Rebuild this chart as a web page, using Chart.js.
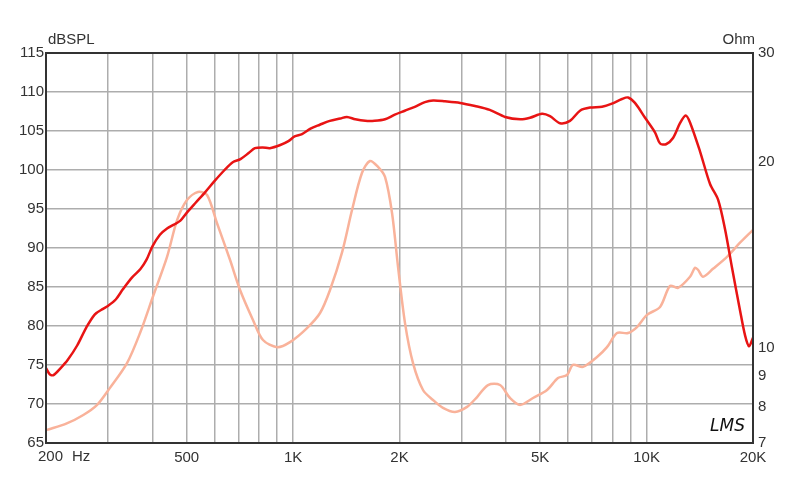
<!DOCTYPE html>
<html>
<head>
<meta charset="utf-8">
<script src="https://cdn.jsdelivr.net/npm/chart.js@4/dist/chart.umd.min.js"></script>
<style>
  html, body { margin: 0; padding: 0; background: #fff; }
  #wrap { width: 800px; height: 484px; }
</style>
</head>
<body>
<div id="wrap"><canvas id="chart" width="800" height="484"></canvas></div>
<script>
// SPL response (Hz / dB)
const splFreq = [200, 205, 210, 220, 230, 245, 260, 275, 290, 300, 315, 330, 350, 370, 385, 400, 420, 440, 460, 480,
  500, 530, 565, 600, 640, 675, 710, 750, 780, 820, 860, 920, 970, 1010, 1060, 1120, 1190, 1270, 1360, 1420,
  1500, 1600, 1700, 1820, 1940, 2070, 2210, 2360, 2490, 2690, 2970, 3270, 3600, 3980, 4390, 4680, 5060, 5330,
  5690, 6070, 6480, 6920, 7480, 7980, 8520, 8860, 9270, 9900, 10570, 10920, 11350, 11880, 12430, 12900, 13270,
  14160, 15120, 15930, 16670, 17440, 18380, 18990, 19490, 20000];
const splDb = [74.6, 73.8, 73.7, 74.6, 75.6, 77.5, 79.8, 81.5, 82.2, 82.6, 83.4, 84.7, 86.2, 87.3, 88.5, 90.2, 91.7, 92.5, 93.0, 93.5,
  94.5, 95.8, 97.2, 98.6, 100.0, 101.0, 101.4, 102.2, 102.8, 102.9, 102.8, 103.2, 103.7, 104.3, 104.6, 105.3, 105.8, 106.3, 106.6, 106.8,
  106.5, 106.3, 106.3, 106.5, 107.1, 107.6, 108.1, 108.7, 108.9, 108.8, 108.6, 108.2, 107.7, 106.8, 106.5, 106.7, 107.2, 106.9,
  106.0, 106.3, 107.6, 108.0, 108.1, 108.5, 109.1, 109.3, 108.6, 106.7, 104.8, 103.4, 103.3, 104.1, 106.0, 107.0, 106.1,
  102.4, 98.2, 96.2, 92.4, 87.5, 82.0, 78.8, 77.4, 78.5];

// Impedance (Hz / Ohm)
const impFreq = [201, 229, 255, 279, 303, 339, 369, 401, 440, 470, 501, 538, 571, 609, 663, 708, 770, 822, 901, 980,
  1095, 1192, 1272, 1375, 1468, 1566, 1650, 1739, 1820, 1905, 1981, 2073, 2184, 2331, 2487, 2655, 2871, 3105, 3315,
  3560, 3849, 4108, 4385, 4772, 5229, 5615, 5954, 6190, 6608, 7241, 7727, 8248, 8861, 9394, 10026, 10916, 11650,
  12272, 13270, 13708, 13978, 14442, 15412, 16886, 18376, 20000];
const impOhm = [7.35, 7.53, 7.77, 8.07, 8.59, 9.43, 10.55, 12.07, 14.02, 16.09, 17.33, 17.86, 17.66, 15.91, 13.87, 12.39, 11.08, 10.28, 10.01, 10.2,
  10.75, 11.37, 12.39, 14.24, 16.7, 19.17, 20.05, 19.61, 18.89, 16.51, 13.51, 10.95, 9.43, 8.53, 8.22, 7.98, 7.86, 8.01, 8.31,
  8.69, 8.69, 8.28, 8.07, 8.28, 8.53, 8.92, 9.02, 9.37, 9.3, 9.65, 10.01, 10.55, 10.55, 10.79, 11.29, 11.63, 12.58,
  12.49, 13.02, 13.46, 13.36, 13.02, 13.41, 14.02, 14.78, 15.51];

// Axis ticks
const freqGrid = [200, 300, 400, 500, 600, 700, 800, 900, 1000, 2000, 3000, 4000, 5000, 6000, 7000, 8000, 9000, 10000, 20000];
const freqLabels = { 500: '500', 1000: '1K', 2000: '2K', 5000: '5K', 10000: '10K', 20000: '20K' };
const ohmTicks = [7, 8, 9, 10, 20, 30];

const FONT = "'Liberation Sans', Arial, sans-serif";
const gridColor = '#adadad';
const textColor = '#333';

function toPoints(xs, ys) {
  return xs.map((x, i) => ({ x, y: ys[i] }));
}

const framePlugin = {
  id: 'frame',
  afterDraw(chart) {
    const { ctx, chartArea: a } = chart;
    ctx.save();
    ctx.strokeStyle = '#333';
    ctx.lineWidth = 2;
    ctx.strokeRect(a.left, a.top, a.right - a.left, a.bottom - a.top);

    // axis titles and the first frequency label (sits a bit right of its tick)
    ctx.fillStyle = textColor;
    ctx.font = `15px ${FONT}`;
    ctx.textBaseline = 'middle';
    ctx.textAlign = 'left';
    ctx.fillText('dBSPL', 48, 40);
    ctx.fillText('200', 38, 457);
    ctx.fillText('Hz', 72, 457);
    ctx.textAlign = 'right';
    ctx.fillText('Ohm', 755, 40);

    ctx.fillStyle = '#111';
    ctx.font = `italic 17px 'DejaVu Sans', sans-serif`;
    ctx.fillText('LMS', 745, 427);
    ctx.restore();
  }
};

new Chart(document.getElementById('chart'), {
  type: 'line',
  data: {
    datasets: [
      {
        label: 'SPL',
        data: toPoints(splFreq, splDb),
        yAxisID: 'y',
        borderColor: '#e81414',
        borderWidth: 2.5,
        pointRadius: 0,
        tension: 0.3
      },
      {
        label: 'Impedance',
        data: toPoints(impFreq, impOhm),
        yAxisID: 'y1',
        borderColor: '#f9b29a',
        borderWidth: 2.5,
        pointRadius: 0,
        tension: 0.3
      }
    ]
  },
  options: {
    responsive: false,
    animation: false,
    devicePixelRatio: 1,
    layout: { padding: { top: 53, left: 0, right: 0, bottom: 0 } },
    plugins: {
      legend: { display: false },
      tooltip: { enabled: false }
    },
    scales: {
      x: {
        type: 'logarithmic',
        min: 200,
        max: 20000,
        afterBuildTicks: scale => { scale.ticks = freqGrid.map(v => ({ value: v })); },
        afterFit: scale => { scale.height = 41; },
        border: { display: false },
        grid: { color: gridColor, lineWidth: 1.5, drawTicks: false },
        ticks: {
          autoSkip: false,
          maxRotation: 0,
          padding: 6,
          color: textColor,
          font: { family: FONT, size: 15 },
          callback: value => freqLabels[value] || ''
        }
      },
      y: {
        position: 'left',
        min: 65,
        max: 115,
        afterFit: scale => { scale.width = 46; },
        border: { display: false },
        grid: { color: gridColor, lineWidth: 1.5, drawTicks: false },
        ticks: {
          stepSize: 5,
          padding: 2,
          color: textColor,
          font: { family: FONT, size: 15 }
        }
      },
      y1: {
        type: 'logarithmic',
        position: 'right',
        min: 7,
        max: 30,
        afterBuildTicks: scale => { scale.ticks = ohmTicks.map(v => ({ value: v })); },
        afterFit: scale => { scale.width = 47; },
        border: { display: false },
        grid: { display: false, drawTicks: false },
        ticks: {
          padding: 5,
          color: textColor,
          font: { family: FONT, size: 15 },
          callback: value => String(value)
        }
      }
    }
  },
  plugins: [framePlugin]
});
</script>
</body>
</html>
